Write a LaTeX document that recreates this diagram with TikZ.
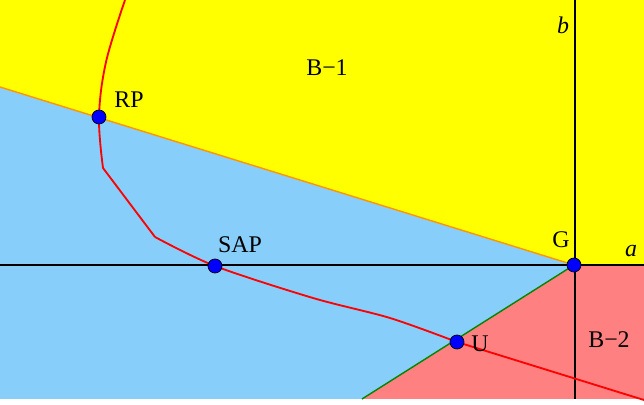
\documentclass[tikz,border=0pt]{standalone}
\usepackage{fontspec}
\setmainfont{Liberation Serif}
\usetikzlibrary{positioning}

\definecolor{regyellow}{RGB}{255,255,0}
\definecolor{regblue}{RGB}{135,206,250}
\definecolor{regred}{RGB}{255,128,128}
\definecolor{bndorange}{RGB}{255,150,0}
\definecolor{bndgreen}{RGB}{0,135,0}

\begin{document}
\begin{tikzpicture}[x=0.025cm, y=-0.025cm, line width=1pt,
  axis/.style={black, line width=1.4pt},
  trajectory/.style={red, line width=1.3pt, line join=round},
  eqpt/.style={circle, fill=blue, draw=black, line width=0.5pt,
               inner sep=0pt, minimum size=10pt},
  lbl/.style={anchor=base, inner sep=0pt, font=\fontsize{17}{20}\selectfont}]

\useasboundingbox (0,0) rectangle (644,405);

% corners and boundary ends
\coordinate (tl) at (0,0);
\coordinate (tr) at (644,0);
\coordinate (br) at (644,399);
\coordinate (bl) at (0,399);
\coordinate (oL) at (0,87);
\coordinate (gB) at (362,399);
\coordinate (aL) at (0,265);
\coordinate (aR) at (644,265);
\coordinate (bT) at (575,0);
\coordinate (bB) at (575,399);
\coordinate (G)  at (574,265);

% regions
\fill[regblue]   (tl) rectangle (br);
\fill[regyellow] (tl) -- (tr) -- (aR) -- (G) -- (oL) -- cycle;
\fill[regred]    (G) -- (aR) -- (br) -- (gB) -- cycle;

% boundaries
\draw[bndorange] (oL) -- (G);
\draw[bndgreen]  (G) -- (gB);

% axes
\draw[axis] (aL) -- (aR);
\draw[axis] (bT) -- (bB);

% path of the state
\coordinate (p0) at (125,0);
\coordinate (p1) at (106,62);
\coordinate (RP) at (99,117);
\coordinate (p2) at (103,168);
\coordinate (p3) at (155,237);
\coordinate (SAP) at (215,266);
\coordinate (p4) at (313,298);
\coordinate (p5) at (390,318);
\coordinate (U)  at (457,342);
\coordinate (p6) at (644,400);

\draw[trajectory] plot[smooth, tension=0.6] coordinates {(p0) (p1) (RP) (p2)}
  -- (p3);
\draw[trajectory] plot[smooth, tension=0.5] coordinates {(p3) (SAP) (p4) (p5) (U)}
  -- (p6);

% points
\node[eqpt] (dRP)  at (RP)  {};
\node[eqpt] (dSAP) at (SAP) {};
\node[eqpt] (dU)   at (U)   {};
\node[eqpt] (dG)   at (G)   {};

% labels
\node[lbl] (tRP)  at (129,108) {RP};
\node[lbl] (tB1)  at (327,76)  {B−1};
\node[lbl] (tSAP) at (240,253) {SAP};
\node[lbl] (tG)   at (561,248) {G};
\node[lbl] (ta)   at (631,257) {\textit{a}};
\node[lbl] (tb)   at (563,34)  {\textit{b}};
\node[lbl] (tU)   at (480,352) {U};
\node[lbl] (tB2)  at (609,348) {B−2};

\end{tikzpicture}
\end{document}
